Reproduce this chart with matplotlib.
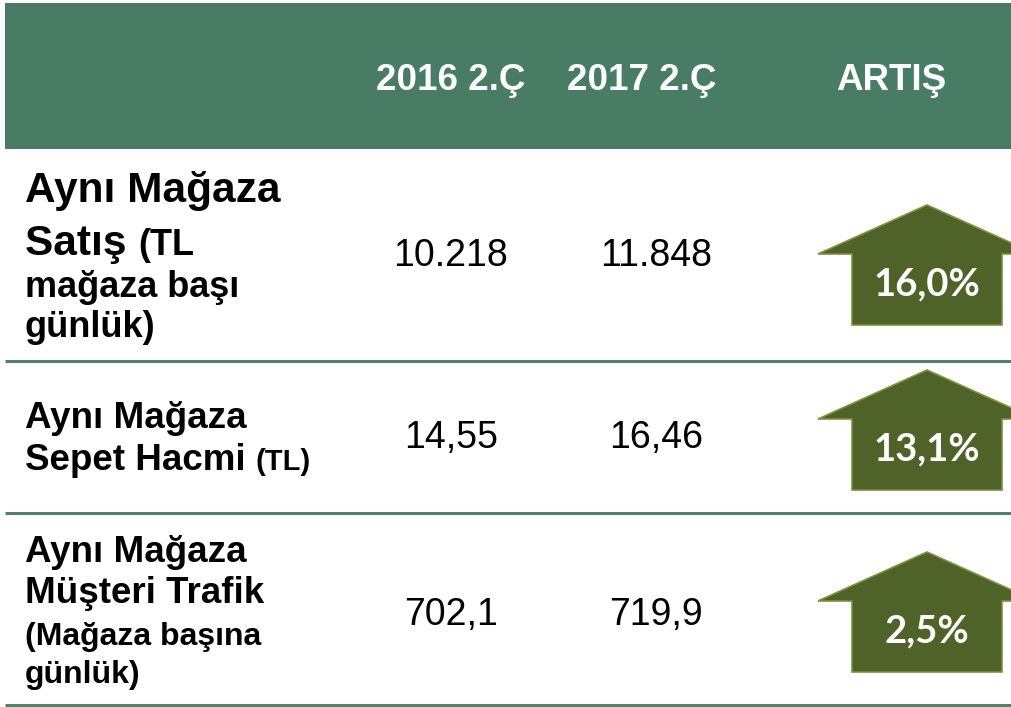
import matplotlib
matplotlib.use("Agg")
import matplotlib.pyplot as plt
from matplotlib.patches import Polygon, Rectangle

plt.rcParams['font.family'] = ['Liberation Sans', 'DejaVu Sans']

# data
headers = ['2016 2.Ç', '2017 2.Ç', 'ARTIŞ']
v2016 = ['10.218', '14,55', '702,1']
v2017 = ['11.848', '16,46', '719,9']
growth = [16.0, 13.1, 2.5]

# row labels: (text, size) per line, a line may hold a big and a small part
row_lines = [
    [[('Aynı Mağaza', 30.5)], [('Satış ', 30.5), ('(TL', 26)], [('mağaza başı', 26)], [('günlük)', 26)]],
    [[('Aynı Mağaza', 26.5)], [('Sepet Hacmi ', 26.5), ('(TL)', 21)]],
    [[('Aynı Mağaza', 26.5)], [('Müşteri Trafik', 26.5)], [('(Mağaza başına', 23)], [('günlük)', 23)]],
]
row_baselines = [[202, 255, 297, 337], [428, 470], [562, 603, 645, 683]]

W, H = 1011, 707
fig = plt.figure(figsize=(W / 100, H / 100), dpi=100)
ax = fig.add_axes([0, 0, 1, 1])
ax.set_xlim(0, W)
ax.set_ylim(H, 0)
ax.axis('off')

# header band
ax.add_patch(Rectangle((5, 3), W - 5, 146, facecolor='#487C65', edgecolor='none'))
for x, h in zip([451, 642, 891], headers):
    ax.text(x, 80, h, color='white', fontsize=26.5, fontweight='bold',
            ha='center', va='center')

# separators
for y in [361, 513, 705]:
    ax.plot([5, W], [y, y], color='#4E826E', lw=2.2, solid_capstyle='butt')

# row labels
for lines, bases in zip(row_lines, row_baselines):
    for parts, yb in zip(lines, bases):
        x = 25
        for txt, size in parts:
            t = ax.text(x, yb, txt, fontsize=size, fontweight='bold',
                        color='black', ha='left', va='baseline')
            fig.canvas.draw()
            bb = t.get_window_extent()
            x += bb.width

# values
value_y = [256, 438, 615]
for y, a, b in zip(value_y, v2016, v2017):
    ax.text(451, y, a, fontsize=27, ha='center', va='center', color='black')
    ax.text(656, y, b, fontsize=27, ha='center', va='center', color='black')

# arrows
tips = [205, 370, 552]
cx = 927
for tip, g in zip(tips, growth):
    shoulder = tip + 49
    bottom = tip + 120
    verts = [(cx, tip), (cx + 109, shoulder), (cx + 75, shoulder), (cx + 75, bottom),
             (cx - 75, bottom), (cx - 75, shoulder), (cx - 109, shoulder)]
    ax.add_patch(Polygon(verts, closed=True, facecolor='#4F6228',
                         edgecolor='#77933C', lw=1.2, clip_on=True))
    lab = f'{g:.1f}%'.replace('.', ',')
    ax.text(cx, tip + 79, lab, fontsize=27.5, fontweight='bold', color='white',
            ha='center', va='center', family=['Lato', 'DejaVu Sans'])

fig.savefig('out.png', dpi=100)
